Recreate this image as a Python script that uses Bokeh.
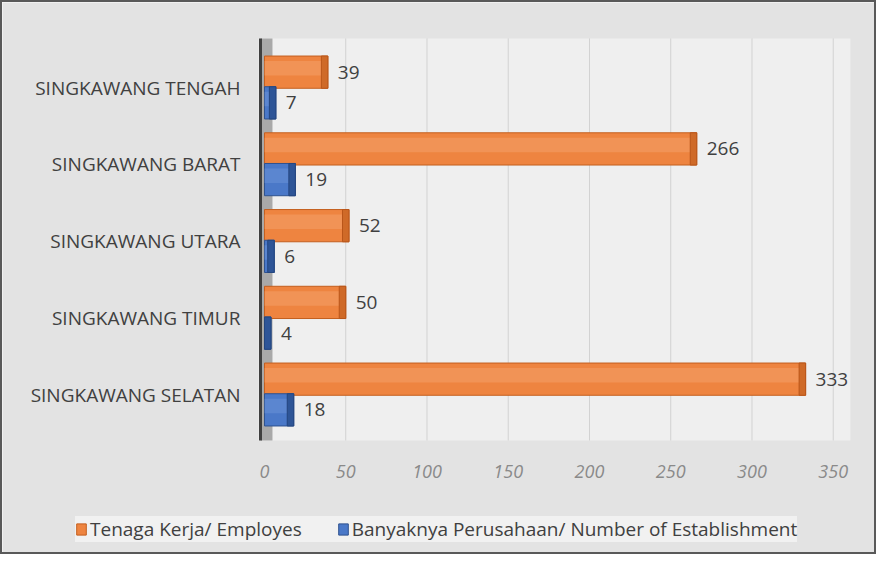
from bokeh.plotting import figure
from bokeh.models import (BoxAnnotation, Legend, LegendItem, ColumnDataSource,
                          LabelSet)
from bokeh.core.properties import value
from bokeh.embed import file_html
from bokeh.resources import INLINE

# ---------------- data ----------------
categories = ["SINGKAWANG SELATAN", "SINGKAWANG TIMUR", "SINGKAWANG UTARA",
              "SINGKAWANG BARAT", "SINGKAWANG TENGAH"]
employees = [333, 50, 52, 266, 39]
establishments = [18, 4, 6, 19, 7]
x_ticks = [0, 50, 100, 150, 200, 250, 300, 350]
series_names = ["Tenaga Kerja/ Employes",
                "Banyaknya Perusahaan/ Number of Establishment"]

FONT = "Open Sans"
BORDER_BG = "#e3e3e3"
ORANGE, ORANGE_LINE, ORANGE_CAP = "#EE8440", "#C45F1E", "#CF6A28"
BLUE, BLUE_LINE, BLUE_CAP = "#4A78C8", "#2F528F", "#2E5597"

pos = list(range(len(categories)))
off = 0.2
bh = 0.42
cap = 4.0

# plot-area extent (data units) and layout offsets for the labels
X0, X1 = -3.69, 360.6
Y0, Y1 = -0.6, 4.64
WALL_L, WALL_R = -2.46, 4.9
CAT_LABEL_X = -14.8
TICK_LABEL_Y = -1.0

def make_src(vals, sign):
    return ColumnDataSource(dict(
        y=[p + sign * off for p in pos],
        yh=[p + sign * off + 0.05 for p in pos],
        v=vals,
        capl=[max(v - cap, 0) for v in vals],
        lab=[str(v) for v in vals],
    ))

src_e = make_src(employees, +1)
src_b = make_src(establishments, -1)

p = figure(width=876, height=554, x_range=(-161.23, 377.85),
           y_range=(-2.1107, 5.1075), x_axis_type=None, y_axis_type=None,
           output_backend="svg", toolbar_location=None,
           min_border_left=0, min_border_right=0,
           min_border_top=0, min_border_bottom=0)
p.styles = {"border": "2px solid #595959"}
p.border_fill_color = BORDER_BG
p.background_fill_color = BORDER_BG
p.outline_line_color = None
p.grid.grid_line_color = None

# plot area + wall
p.add_layout(BoxAnnotation(left=X0, right=X1, bottom=Y0, top=Y1,
                           fill_color="#efefef", fill_alpha=1.0,
                           line_color=None, level="underlay"))
p.add_layout(BoxAnnotation(left=WALL_L, right=WALL_R, bottom=Y0, top=Y1,
                           fill_color="#a9a9a9", fill_alpha=1.0,
                           line_color=None, level="underlay"))

# vertical gridlines at the tick values
grid_x = x_ticks[1:]
p.segment(x0=grid_x, y0=[Y0] * len(grid_x), x1=grid_x, y1=[Y1] * len(grid_x),
          line_color="#d2d2d2", line_width=1)
# wall edge
p.segment(x0=[WALL_L], y0=[Y0], x1=[WALL_L], y1=[Y1],
          line_color="#3f3f3f", line_width=3)

# bars - employees
r_e = p.hbar(y="y", left=0, right="v", height=bh, source=src_e,
             fill_color=ORANGE, line_color=ORANGE_LINE, line_width=1)
p.hbar(y="yh", left=0, right="capl", height=bh * 0.45, source=src_e,
       fill_color="#F5A772", fill_alpha=0.45, line_color=None)
p.hbar(y="y", left="capl", right="v", height=bh, source=src_e,
       fill_color=ORANGE_CAP, line_color="#B9561A", line_width=1)

# bars - establishments
r_b = p.hbar(y="y", left=0, right="v", height=bh, source=src_b,
             fill_color=BLUE, line_color=BLUE_LINE, line_width=1)
p.hbar(y="yh", left=0, right="capl", height=bh * 0.45, source=src_b,
       fill_color="#7097DA", fill_alpha=0.45, line_color=None)
p.hbar(y="y", left="capl", right="v", height=bh, source=src_b,
       fill_color=BLUE_CAP, line_color="#24467F", line_width=1)

# value labels
for src in (src_e, src_b):
    p.add_layout(LabelSet(x="v", y="y", text="lab", source=src, x_offset=10,
                          text_baseline="middle", text_align="left",
                          text_font=value(FONT), text_font_size="19px",
                          text_color="#404040"))

# category labels (y axis)
p.text(x=[CAT_LABEL_X] * len(pos), y=pos, text=categories,
       text_align="right", text_baseline="middle",
       text_font=value(FONT), text_font_size="19px", text_color="#404040")

# x tick labels
p.text(x=x_ticks, y=[TICK_LABEL_Y] * len(x_ticks),
       text=[str(t) for t in x_ticks],
       text_align="center", text_baseline="middle",
       text_font=value(FONT), text_font_size="18px",
       text_font_style="italic", text_color="#8a8a8a")

legend = Legend(items=[LegendItem(label=series_names[0], renderers=[r_e]),
                       LegendItem(label=series_names[1], renderers=[r_b])],
                location=(73, 14), orientation="horizontal",
                padding=12, spacing=35, label_standoff=3,
                glyph_width=12, glyph_height=14, margin=0,
                label_text_font=FONT, label_text_font_size="19px",
                label_text_color="#404040",
                background_fill_color="white", background_fill_alpha=0.5,
                border_line_color=None)
p.add_layout(legend)

open("out.html", "w").write(file_html(p, INLINE))
